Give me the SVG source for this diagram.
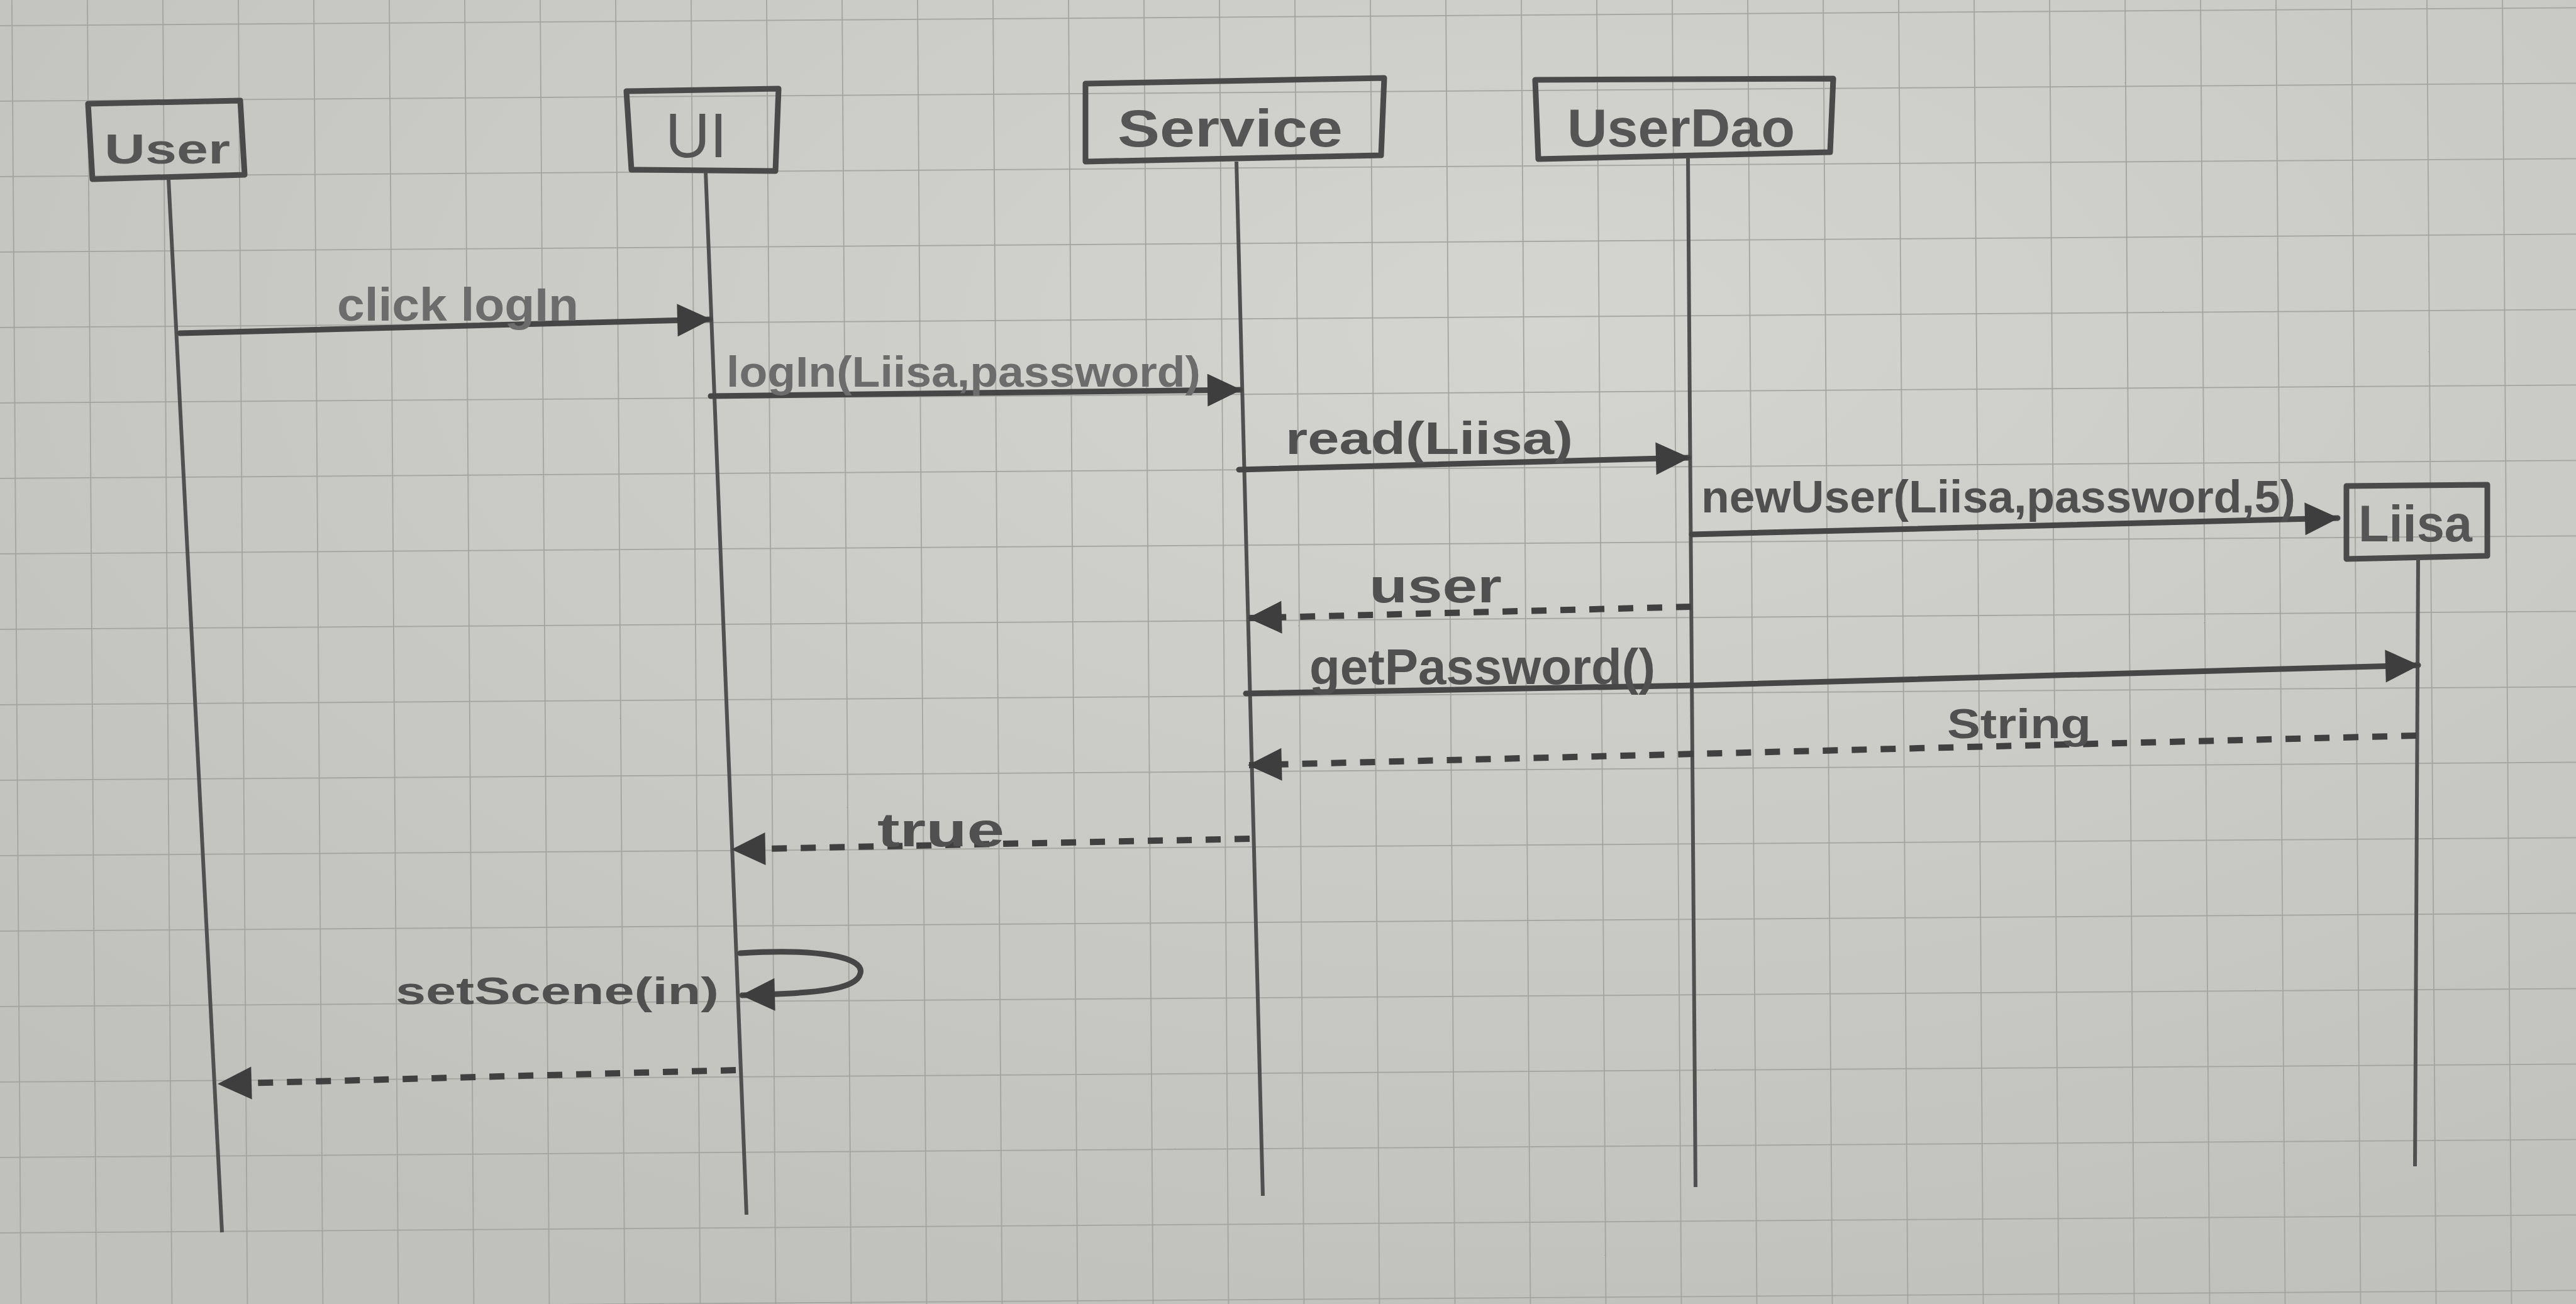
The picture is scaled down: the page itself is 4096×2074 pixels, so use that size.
<svg xmlns="http://www.w3.org/2000/svg" width="4096" height="2074" viewBox="0 0 4096 2074">
<defs>
<radialGradient id="paper" cx="0.6" cy="0.25" r="0.8">
<stop offset="0" stop-color="#d4d4d1"/>
<stop offset="1" stop-color="#c0c0bc"/>
</radialGradient>
<pattern id="grid" x="18" y="40" width="120" height="120" patternUnits="userSpaceOnUse" patternTransform="rotate(-0.4)">
<path d="M0,0 V120 M0,0 H120" fill="none" stroke="#a2a29f" stroke-width="3.5"/>
</pattern>
<marker id="ah" markerUnits="userSpaceOnUse" markerWidth="60" markerHeight="56" refX="54" refY="26" orient="auto">
<path d="M2,0 L56,26 L2,52 Z" fill="#3e3e3e"/>
</marker>
</defs>
<style>
.box{fill:none;stroke:#4a4a4a;stroke-width:9;stroke-linejoin:round}
.life{fill:none;stroke:#505050;stroke-width:6}
.msg{fill:none;stroke:#464646;stroke-width:9;stroke-linecap:round}
.ret{fill:none;stroke:#404040;stroke-width:10;stroke-dasharray:24 22}
.nl{font-family:"Liberation Sans",Arial,sans-serif;fill:#555;font-weight:bold}
.ml{font-family:"Liberation Sans",Arial,sans-serif;fill:#505050;font-weight:bold}
.lt{fill:#6c6c6c}
</style>
<rect width="4096" height="2074" fill="url(#paper)"/>
<rect width="4096" height="2074" fill="url(#grid)"/>

<g id="node-user">
<polygon class="box" points="140,165 382,160 389,278 147,285"/>
<text class="nl" x="166" y="260" font-size="66" textLength="200" lengthAdjust="spacingAndGlyphs" fill="#5a5a5a">User</text>
<path class="life" d="M268,285 L353,1960"/>
</g>
<g id="node-ui">
<polygon class="box" points="996,145 1238,141 1233,272 1004,270"/>
<text class="nl" x="1058" y="250" font-size="100" textLength="98" lengthAdjust="spacingAndGlyphs" style="font-weight:normal" fill="#5e5e5e">UI</text>
<path class="life" d="M1122,273 L1187,1932"/>
</g>
<g id="node-service">
<polygon class="box" points="1726,133 2201,124 2196,247 1726,257"/>
<text class="nl" x="1777" y="233" font-size="84" textLength="358" lengthAdjust="spacingAndGlyphs">Service</text>
<path class="life" d="M1966,257 L2008,1902"/>
</g>
<g id="node-userdao">
<polygon class="box" points="2441,127 2915,125 2910,242 2446,253"/>
<text class="nl" x="2492" y="233" font-size="86" textLength="362" lengthAdjust="spacingAndGlyphs">UserDao</text>
<path class="life" d="M2684,250 L2696,1888"/>
</g>
<g id="node-liisa">
<polygon class="box" points="3731,773 3955,771 3955,884 3731,889"/>
<text class="nl" x="3750" y="861" font-size="82" textLength="181" lengthAdjust="spacingAndGlyphs" fill="#4a4a4a">Liisa</text>
<path class="life" d="M3845,888 L3840,1855"/>
</g>

<g id="connectors">
<path class="msg" d="M286,530 L1129,508" marker-end="url(#ah)" stroke="#555"/>
<text class="ml lt" x="536" y="510" font-size="74" textLength="384" lengthAdjust="spacingAndGlyphs">click logIn</text>

<path class="msg" d="M1130,630 L1972,620" marker-end="url(#ah)"/>
<text class="ml lt" x="1155" y="615" font-size="68" textLength="754" lengthAdjust="spacingAndGlyphs">logIn(Liisa,password)</text>

<path class="msg" d="M1970,747 L2685,728" marker-end="url(#ah)"/>
<text class="ml" x="2044" y="722" font-size="72" textLength="457" lengthAdjust="spacingAndGlyphs">read(Liisa)</text>

<path class="msg" d="M2690,850 L3717,824" marker-end="url(#ah)" stroke-width="11"/>
<text class="ml" x="2705" y="815" font-size="72" textLength="945" lengthAdjust="spacingAndGlyphs" fill="#484848">newUser(Liisa,password,5)</text>

<path class="ret" d="M2689,965 L1986,983" marker-end="url(#ah)"/>
<text class="ml" x="2177" y="958" font-size="76" textLength="211" lengthAdjust="spacingAndGlyphs">user</text>

<path class="msg" d="M1981,1103 L2700,1090 L3845,1058" marker-end="url(#ah)" stroke-width="11"/>
<text class="ml" x="2082" y="1088" font-size="80" textLength="550" lengthAdjust="spacingAndGlyphs" fill="#464646">getPassword()</text>

<path class="ret" d="M3842,1170 L1986,1217" marker-end="url(#ah)"/>
<text class="ml" x="3096" y="1174" font-size="66" textLength="229" lengthAdjust="spacingAndGlyphs" fill="#464646">String</text>

<path class="ret" d="M1987,1334 L1165,1351" marker-end="url(#ah)"/>
<text class="ml" x="1395" y="1346" font-size="76" textLength="202" lengthAdjust="spacingAndGlyphs">true</text>

<path class="msg" d="M1177,1516 C1300,1508 1375,1522 1368,1548 C1362,1574 1300,1580 1180,1583" marker-end="url(#ah)"/>
<text class="ml" x="629" y="1597" font-size="62" textLength="514" lengthAdjust="spacingAndGlyphs">setScene(in)</text>

<path class="ret" d="M1170,1702 L348,1724" marker-end="url(#ah)"/>
</g>
</svg>
